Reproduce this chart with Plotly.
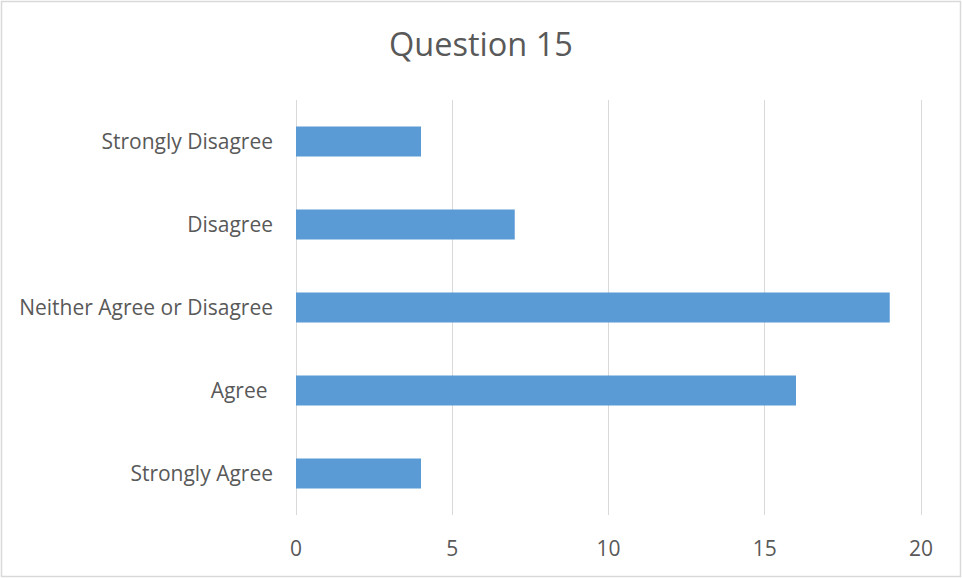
import plotly.graph_objects as go

# Survey responses for Question 15 (listed bottom to top)
categories = ["Strongly Agree", "Agree ", "Neither Agree or Disagree", "Disagree", "Strongly Disagree"]
counts = [4, 16, 19, 7, 4]
x_ticks = [0, 5, 10, 15, 20]

W, H = 962, 578
ML, MR, MT, MB = 294, 39, 100, 63
pw, ph = W - ML - MR, H - MT - MB
# pad the value range by ~2px each side so gridlines at 0 and 20 are drawn
pad = 2 * 20 / (pw - 4)

fig = go.Figure(
    go.Bar(
        y=categories,
        x=counts,
        orientation="h",
        marker=dict(color="#5B9BD5", line=dict(width=0)),
        width=0.36,
    )
)

font_family = "Open Sans, Segoe UI, sans-serif"

fig.update_layout(
    width=W,
    height=H,
    margin=dict(l=ML, r=MR, t=MT, b=MB, pad=0),
    paper_bgcolor="white",
    plot_bgcolor="white",
    showlegend=False,
    title=dict(
        text="Question 15",
        x=0.5,
        xref="container",
        xanchor="center",
        y=1 - 45 / H,
        yanchor="middle",
        font=dict(family=font_family, size=32.5, color="#595959"),
    ),
    xaxis=dict(
        range=[-pad, 20 + pad],
        tickvals=x_ticks,
        showgrid=True,
        gridcolor="#D9D9D9",
        gridwidth=1,
        zeroline=False,
        showline=False,
        ticks="",
        ticklabelstandoff=19,
        tickfont=dict(family=font_family, size=21, color="#595959"),
    ),
    yaxis=dict(
        categoryorder="array",
        categoryarray=categories,
        range=[-0.5, 4.5],
        showgrid=False,
        zeroline=False,
        showline=False,
        ticks="",
        ticklabelstandoff=20,
        tickfont=dict(family=font_family, size=21, color="#595959"),
    ),
    bargap=0.64,
)

# Light frame around the whole chart
fig.add_shape(
    type="rect",
    xref="paper",
    yref="paper",
    x0=(1.5 - ML) / pw,
    x1=(W - 1.5 - ML) / pw,
    y0=-(H - 1.5 - MT - ph) / ph,
    y1=(MT - 1.5) / ph + 1,
    line=dict(color="#D9D9D9", width=1.5),
    fillcolor="rgba(0,0,0,0)",
    layer="below",
)

fig.write_html("out.html")
